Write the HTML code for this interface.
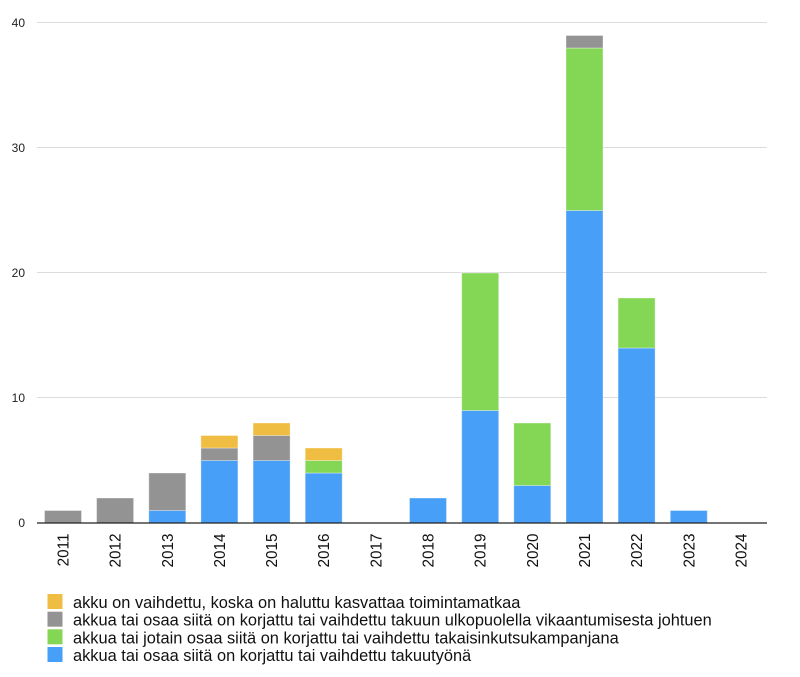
<!DOCTYPE html>
<html><head><meta charset="utf-8"><style>
html,body{margin:0;padding:0;background:#fff;}
svg{display:block;font-family:"Liberation Sans",Arial,sans-serif;}
</style></head><body>
<svg width="800" height="677" viewBox="0 0 800 677" xmlns="http://www.w3.org/2000/svg">
<g stroke="#dcdcdc" stroke-width="1">
<line x1="37" y1="22.5" x2="767" y2="22.5"/>
<line x1="37" y1="147.5" x2="767" y2="147.5"/>
<line x1="37" y1="272.5" x2="767" y2="272.5"/>
<line x1="37" y1="397.5" x2="767" y2="397.5"/>
</g>
<g font-size="12" fill="#222" text-anchor="end">
<text x="25" y="27">40</text>
<text x="25" y="152">30</text>
<text x="25" y="277">20</text>
<text x="25" y="402">10</text>
<text x="25" y="527">0</text>
</g>
<g stroke="rgba(255,255,255,0.35)" stroke-width="1">
<rect x="44.5" y="510.5" width="37" height="12.5" fill="#939393"/>
<rect x="96.6" y="498" width="37" height="25" fill="#939393"/>
<rect x="148.8" y="510.5" width="37" height="12.5" fill="#479ff8"/>
<rect x="148.8" y="473" width="37" height="37.5" fill="#939393"/>
<rect x="200.9" y="460.5" width="37" height="62.5" fill="#479ff8"/>
<rect x="200.9" y="448" width="37" height="12.5" fill="#939393"/>
<rect x="200.9" y="435.5" width="37" height="12.5" fill="#eebd41"/>
<rect x="253.1" y="460.5" width="37" height="62.5" fill="#479ff8"/>
<rect x="253.1" y="435.5" width="37" height="25" fill="#939393"/>
<rect x="253.1" y="423" width="37" height="12.5" fill="#eebd41"/>
<rect x="305.2" y="473" width="37" height="50" fill="#479ff8"/>
<rect x="305.2" y="460.5" width="37" height="12.5" fill="#84d655"/>
<rect x="305.2" y="448" width="37" height="12.5" fill="#eebd41"/>
<rect x="409.5" y="498" width="37" height="25" fill="#479ff8"/>
<rect x="461.7" y="410.5" width="37" height="112.5" fill="#479ff8"/>
<rect x="461.7" y="273" width="37" height="137.5" fill="#84d655"/>
<rect x="513.8" y="485.5" width="37" height="37.5" fill="#479ff8"/>
<rect x="513.8" y="423" width="37" height="62.5" fill="#84d655"/>
<rect x="566" y="210.5" width="37" height="312.5" fill="#479ff8"/>
<rect x="566" y="48" width="37" height="162.5" fill="#84d655"/>
<rect x="566" y="35.5" width="37" height="12.5" fill="#939393"/>
<rect x="618.1" y="348" width="37" height="175" fill="#479ff8"/>
<rect x="618.1" y="298" width="37" height="50" fill="#84d655"/>
<rect x="670.3" y="510.5" width="37" height="12.5" fill="#479ff8"/>
</g>
<line x1="37" y1="523" x2="767" y2="523" stroke="#222" stroke-width="1.2"/>
<g font-size="15.3" fill="#111" text-anchor="end">
<text transform="translate(68.5,533.5) rotate(-90)">2011</text>
<text transform="translate(120.6,533.5) rotate(-90)">2012</text>
<text transform="translate(172.8,533.5) rotate(-90)">2013</text>
<text transform="translate(224.9,533.5) rotate(-90)">2014</text>
<text transform="translate(277.1,533.5) rotate(-90)">2015</text>
<text transform="translate(329.2,533.5) rotate(-90)">2016</text>
<text transform="translate(381.4,533.5) rotate(-90)">2017</text>
<text transform="translate(433.5,533.5) rotate(-90)">2018</text>
<text transform="translate(485.7,533.5) rotate(-90)">2019</text>
<text transform="translate(537.8,533.5) rotate(-90)">2020</text>
<text transform="translate(590,533.5) rotate(-90)">2021</text>
<text transform="translate(642.1,533.5) rotate(-90)">2022</text>
<text transform="translate(694.3,533.5) rotate(-90)">2023</text>
<text transform="translate(746.4,533.5) rotate(-90)">2024</text>
</g>
<g>
<rect x="47.5" y="594" width="15" height="15" fill="#eebd41"/>
<rect x="47.5" y="611.7" width="15" height="15" fill="#939393"/>
<rect x="47.5" y="629.3" width="15" height="15" fill="#84d655"/>
<rect x="47.5" y="647" width="15" height="15" fill="#479ff8"/>
</g>
<g font-size="16.4" fill="#111">
<text x="73" y="608">akku on vaihdettu, koska on haluttu kasvattaa toimintamatkaa</text>
<text x="73" y="625.7">akkua tai osaa siitä on korjattu tai vaihdettu takuun ulkopuolella vikaantumisesta johtuen</text>
<text x="73" y="643.3">akkua tai jotain osaa siitä on korjattu tai vaihdettu takaisinkutsukampanjana</text>
<text x="73" y="661">akkua tai osaa siitä on korjattu tai vaihdettu takuutyönä</text>
</g>
</svg>
</body></html>
